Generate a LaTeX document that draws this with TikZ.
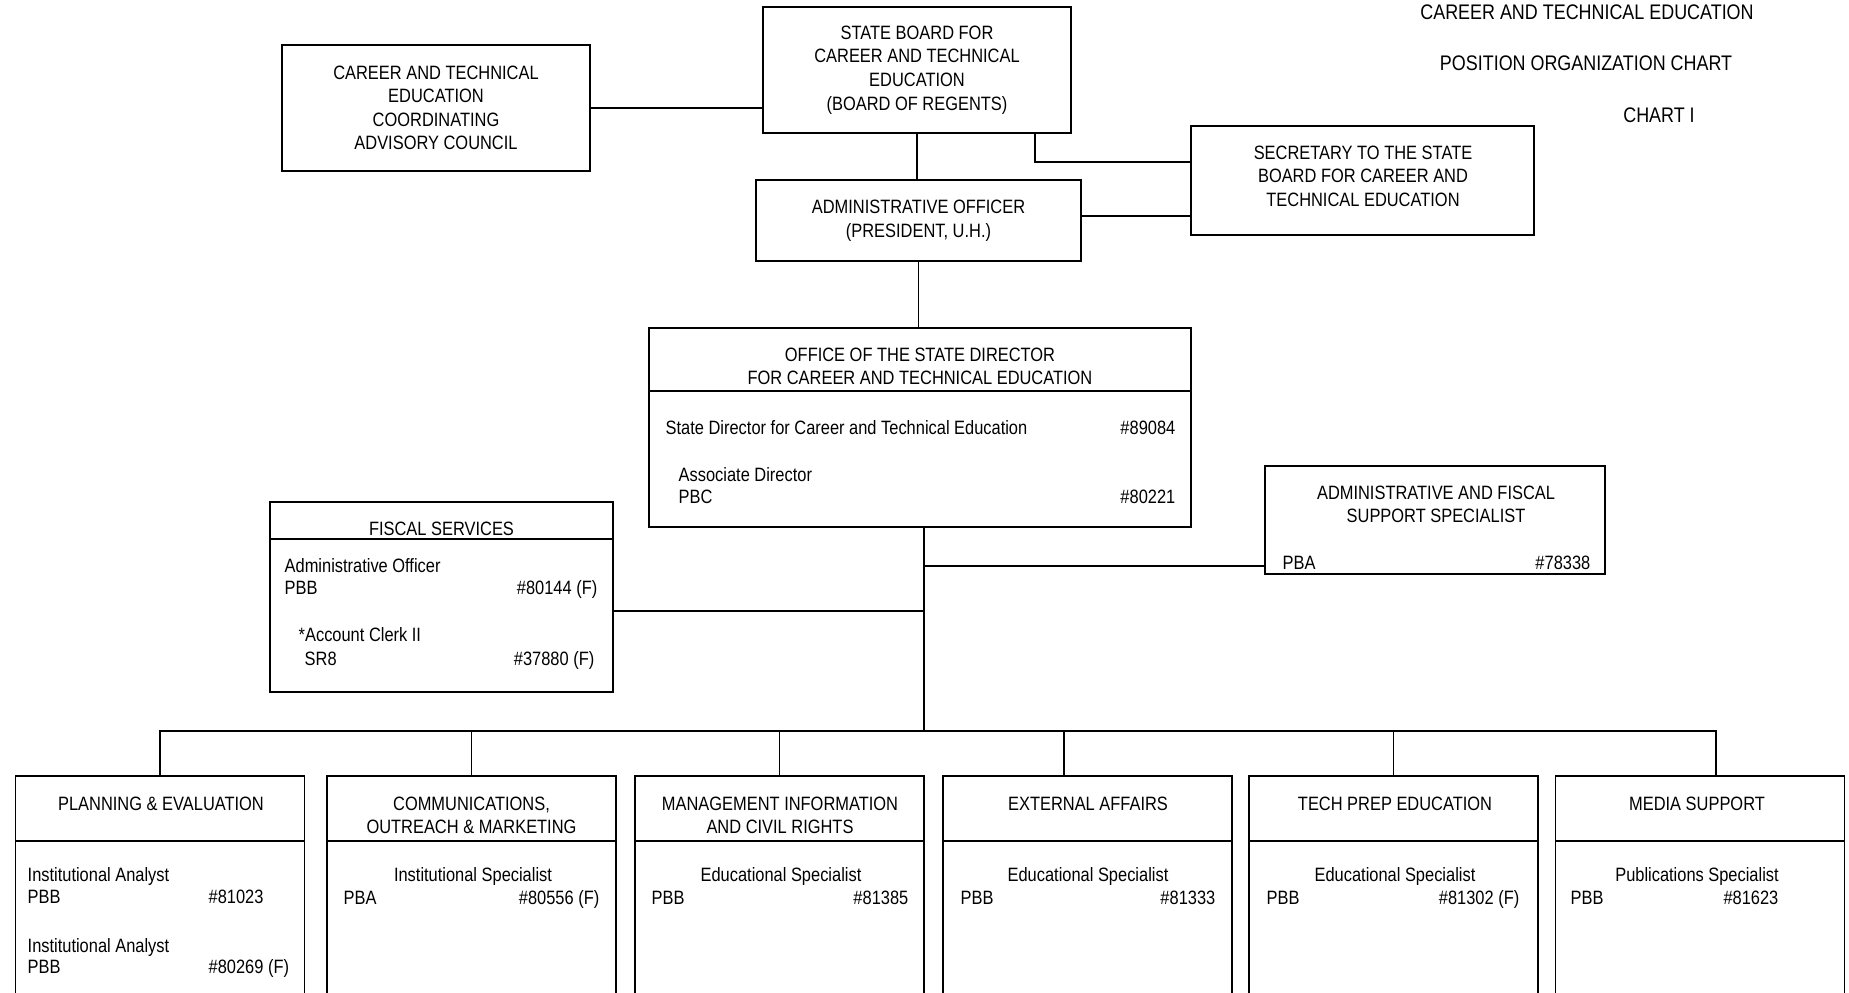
\documentclass[tikz,border=0pt]{standalone}
\usepackage{fontspec}
\setmainfont{Liberation Sans}[FakeStretch=0.85]

\begin{document}
\begin{tikzpicture}[x=0.02cm,y=-0.02cm,line width=0.8pt,
	every node/.style={font=\fontsize{11}{13.4}\selectfont},
	unit box/.style={draw,line width=0.9pt,align=center,inner sep=0pt},
	dept head/.style={unit box,minimum width=5.78cm,minimum height=1.3cm},
	dept body/.style={unit box,minimum width=5.78cm,minimum height=3.18cm},
	head text/.style={inner sep=0pt,anchor=north,align=center},
	pos text/.style={inner sep=0pt,anchor=mid west,yshift=-0.05cm},
	num text/.style={inner sep=0pt,anchor=mid east,yshift=-0.05cm},
	job text/.style={inner sep=0pt,anchor=mid,yshift=-0.05cm},
	title text/.style={inner sep=0pt,anchor=mid,font=\fontsize{12}{14}\selectfont}]

	\useasboundingbox (0,0) rectangle (1849,993);
	\clip (0,0) rectangle (1849,993);

	%chart title
	\node[title text] (t1) at (1587,14.5) {CAREER AND TECHNICAL EDUCATION};
	\node[title text] (t2) at (1586,65.5) {POSITION ORGANIZATION CHART};
	\node[title text] (t3) at (1659,117.5) {CHART I};

	%upper boxes
	\node[unit box,minimum width=6.16cm,minimum height=2.52cm] (advisory) at (436,108)
		{CAREER AND TECHNICAL\\EDUCATION\\COORDINATING\\ADVISORY COUNCIL};
	\node[unit box,minimum width=6.16cm,minimum height=2.52cm] (board) at (917,70)
		{STATE BOARD FOR\\CAREER AND TECHNICAL\\EDUCATION\\(BOARD OF REGENTS)};
	\node[unit box,minimum width=6.86cm,minimum height=2.18cm] (secretary) at (1362.5,180.5) {};
	\node[head text] (sectext) at (1363,145)
		{SECRETARY TO THE STATE\\BOARD FOR CAREER AND\\TECHNICAL EDUCATION};
	\node[unit box,minimum width=6.5cm,minimum height=1.62cm] (admin) at (918.5,220.5)
		{ADMINISTRATIVE OFFICER\\(PRESIDENT, U.H.)};

	%state director office
	\node[unit box,minimum width=10.84cm,minimum height=1.26cm] (officehead) at (920,359.5) {};
	\node[head text] (ohtext) at (920,347) {OFFICE OF THE STATE DIRECTOR\\FOR CAREER AND TECHNICAL EDUCATION};
	\node[unit box,minimum width=10.84cm,minimum height=2.72cm] (officebody) at (920,459) {};
	\node[pos text] (sd) at (665,427) {State Director for Career and Technical Education};
	\node[num text] (sdnum) at (1176,427) {\#89084};
	\node[pos text] (ad) at (678,474) {Associate Director};
	\node[pos text] (adgrade) at (678,496) {PBC};
	\node[num text] (adnum) at (1176,496) {\#80221};

	%administrative and fiscal support
	\node[unit box,minimum width=6.8cm,minimum height=2.16cm] (afbox) at (1435,520) {};
	\node[head text] (afhead) at (1436,485) {ADMINISTRATIVE AND FISCAL\\SUPPORT SPECIALIST};
	\node[pos text] (afgrade) at (1282,562) {PBA};
	\node[num text] (afnum) at (1591,562) {\#78338};

	%fiscal services
	\node[unit box,minimum width=6.86cm,minimum height=0.74cm] (fiscalhead) at (441.5,520.5) {};
	\node[head text] (fstext) at (441.5,521) {FISCAL SERVICES};
	\node[unit box,minimum width=6.86cm,minimum height=3.06cm] (fiscalbody) at (441.5,615.5) {};
	\node[pos text] (fs1) at (284,565) {Administrative Officer};
	\node[pos text] (fs1grade) at (284,587) {PBB};
	\node[num text] (fs1num) at (598,587) {\#80144 (F)};
	\node[pos text] (fs2) at (298,634) {*Account Clerk II};
	\node[pos text] (fs2grade) at (304,658) {SR8};
	\node[num text] (fs2num) at (595,658) {\#37880 (F)};

	%sections
	\node[dept head] (planhead) at (160,808.5) {};
	\node[dept body] (planbody) at (160,920.5) {};
	\node[dept head] (commhead) at (471.5,808.5) {};
	\node[dept body] (commbody) at (471.5,920.5) {};
	\node[dept head] (mishead) at (779.5,808.5) {};
	\node[dept body] (misbody) at (779.5,920.5) {};
	\node[dept head] (exthead) at (1087.5,808.5) {};
	\node[dept body] (extbody) at (1087.5,920.5) {};
	\node[dept head] (techhead) at (1393.5,808.5) {};
	\node[dept body] (techbody) at (1393.5,920.5) {};
	\node[dept head] (mediahead) at (1700,808.5) {};
	\node[dept body] (mediabody) at (1700,920.5) {};

	\node[head text] (plantext) at (161,796) {PLANNING \& EVALUATION};
	\node[head text] (commtext) at (471.5,796) {COMMUNICATIONS,\\OUTREACH \& MARKETING};
	\node[head text] (mistext) at (780,796) {MANAGEMENT INFORMATION\\AND CIVIL RIGHTS};
	\node[head text] (exttext) at (1088,796) {EXTERNAL AFFAIRS};
	\node[head text] (techtext) at (1395,796) {TECH PREP EDUCATION};
	\node[head text] (mediatext) at (1697,796) {MEDIA SUPPORT};

	%positions in sections
	\node[pos text] (pl1) at (27,874) {Institutional Analyst};
	\node[pos text] (pl1grade) at (27,896) {PBB};
	\node[pos text] (pl1num) at (208,896) {\#81023};
	\node[pos text] (pl2) at (27,945) {Institutional Analyst};
	\node[pos text] (pl2grade) at (27,966) {PBB};
	\node[pos text] (pl2num) at (208,966) {\#80269 (F)};
	\node[job text] (cm1) at (473,874) {Institutional Specialist};
	\node[pos text] (cm1grade) at (343,897) {PBA};
	\node[num text] (cm1num) at (600,897) {\#80556 (F)};
	\node[job text] (mi1) at (781,874) {Educational Specialist};
	\node[pos text] (mi1grade) at (651,897) {PBB};
	\node[num text] (mi1num) at (909,897) {\#81385};
	\node[job text] (ex1) at (1088,874) {Educational Specialist};
	\node[pos text] (ex1grade) at (960,897) {PBB};
	\node[num text] (ex1num) at (1216,897) {\#81333};
	\node[job text] (tp1) at (1395,874) {Educational Specialist};
	\node[pos text] (tp1grade) at (1266,897) {PBB};
	\node[num text] (tp1num) at (1520,897) {\#81302 (F)};
	\node[job text] (md1) at (1697,874) {Publications Specialist};
	\node[pos text] (md1grade) at (1570,897) {PBB};
	\node[num text] (md1num) at (1779,897) {\#81623};

	%lines
	\draw (advisory.east) -- (advisory.east -| board.west);
	\draw (board.south) -- (board.south |- admin.north);
	\coordinate (bdout) at ([xshift=2.36cm]board.south);
	\coordinate (secin) at ([yshift=0.37cm]secretary.west);
	\draw (bdout) |- (secin);
	\coordinate (adout) at ([yshift=0.09cm]admin.east);
	\draw (adout) -- (adout -| secretary.west);
	\draw (admin.south) -- (admin.south |- officehead.north);

	\coordinate (bus) at (924,731);
	\draw (bus |- officebody.south) -- (bus);
	\coordinate (fsout) at ([yshift=0.09cm]fiscalbody.east);
	\draw (fsout) -- (fsout -| bus);
	\coordinate (afin) at ([yshift=-0.92cm]afbox.west);
	\draw (afin) -- (afin -| bus);

	\draw (planhead.north) |- (bus);
	\draw (commhead.north) |- (bus);
	\draw (mishead.north) |- (bus);
	\draw ([xshift=-0.47cm]exthead.north) |- (bus);
	\draw (techhead.north) |- (bus);
	\draw ([xshift=0.32cm]mediahead.north) |- (bus);

\end{tikzpicture}
\end{document}
